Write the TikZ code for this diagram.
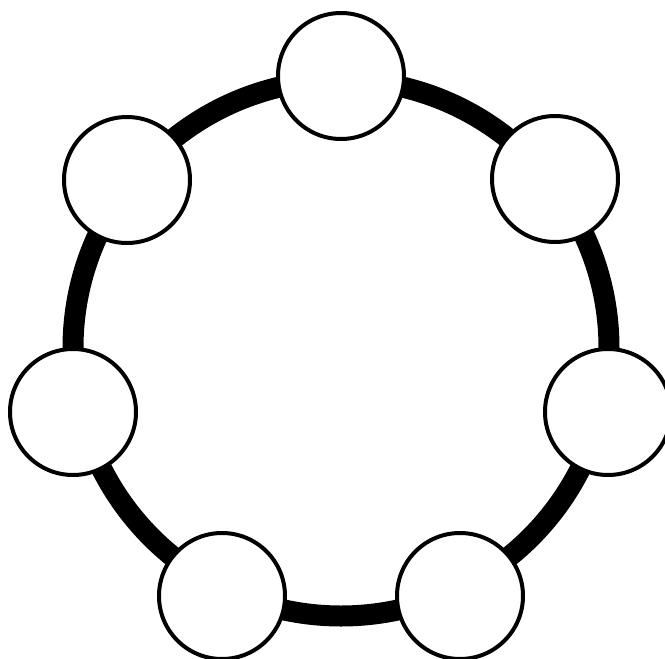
\documentclass[tikz,border=0pt]{standalone}
\begin{document}
\begin{tikzpicture}[x=1pt,y=-1pt,
  ring/.style={line width=21pt,draw=black},
  dot/.style={circle,draw=black,line width=4pt,fill=white,minimum size=126pt,inner sep=0pt}]
\useasboundingbox (0,0) rectangle (665,659);
\coordinate (c) at (341,348);
\draw[ring] (c) circle[radius=268];
\node[dot] (n1) at (341,76) {};
\node[dot] (n2) at (555,179) {};
\node[dot] (n3) at (608,412) {};
\node[dot] (n4) at (460,596) {};
\node[dot] (n5) at (222,596) {};
\node[dot] (n6) at (73,412) {};
\node[dot] (n7) at (127,180) {};
\end{tikzpicture}
\end{document}
